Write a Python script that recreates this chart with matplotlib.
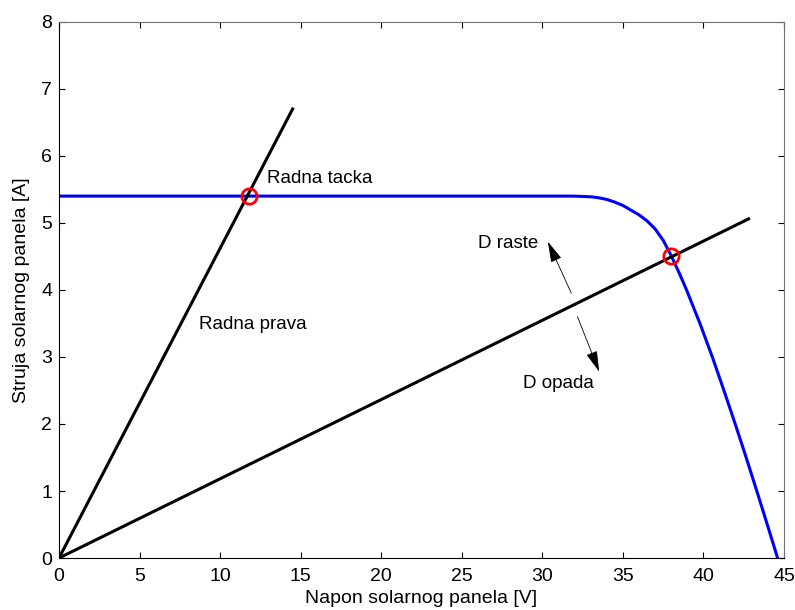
import matplotlib
matplotlib.use("Agg")
import matplotlib.pyplot as plt

plt.rcParams["font.family"] = ["Liberation Sans", "DejaVu Sans"]

# I-V curve of the solar panel
napon = [0, 10, 20, 30, 31.9, 32.5, 33.0, 33.5, 34.0, 34.5, 35.0, 35.5,
         36.0, 36.5, 37.0, 37.5, 38.0, 38.5, 38.95, 39.78, 40.55, 41.27,
         41.97, 42.65, 43.31, 43.96, 44.6]
struja = [5.4, 5.4, 5.4, 5.4, 5.4, 5.395, 5.39, 5.375, 5.35, 5.31, 5.26, 5.19,
          5.12, 5.03, 4.91, 4.74, 4.51, 4.25, 4.0, 3.5, 3.0, 2.5,
          2.0, 1.5, 1.0, 0.5, 0.0]

# load lines through the origin
prava1_v = [0, 14.5]
prava1_i = [0, 6.7]
prava2_v = [0, 42.8]
prava2_i = [0, 5.06]

# operating points
tacke_v = [11.8, 38.0]
tacke_i = [5.4, 4.5]

fig = plt.figure(figsize=(7.95, 6.1), dpi=100)
ax = fig.add_axes([0.0742, 0.0852, 0.912, 0.879])

ax.plot(napon, struja, color="#0000ff", lw=2.2, zorder=2)
ax.plot(prava1_v, prava1_i, color="black", lw=2.2, zorder=3)
ax.plot(prava2_v, prava2_i, color="black", lw=2.2, zorder=3)
ax.plot(tacke_v, tacke_i, "o", ms=11, mfc="none", mec="red", mew=2, zorder=4)

ax.text(12.9, 5.66, "Radna tacka", fontsize=13.5, va="center")
ax.text(8.66, 3.48, "Radna prava", fontsize=13.5, va="center")
ax.text(26.0, 4.69, "D raste", fontsize=13.5, va="center")
ax.text(28.8, 2.6, "D opada", fontsize=13.5, va="center")

arrow = dict(arrowstyle="-|>,head_length=1.3,head_width=0.35",
             color="black", lw=0.6, shrinkA=0, shrinkB=0)
ax.annotate("", xy=(30.34, 4.72), xytext=(31.8, 3.95), arrowprops=arrow)
ax.annotate("", xy=(33.53, 2.78), xytext=(32.18, 3.60), arrowprops=arrow)

ax.set_xlim(0, 45)
ax.set_ylim(0, 8)
ax.set_xticks(range(0, 46, 5))
ax.set_yticks(range(0, 9))
ax.tick_params(direction="in", length=4, width=0.8, labelsize=14,
               top=True, right=True, pad=5)
ax.tick_params(axis="x", pad=7)
for side in ["left", "bottom"]:
    ax.spines[side].set_color("black")
for side in ["top", "right"]:
    ax.spines[side].set_color("#707070")

ax.set_xlabel("Napon solarnog panela [V]", fontsize=14, labelpad=4)
ax.set_ylabel("Struja solarnog panela [A]", fontsize=14, labelpad=8)

fig.savefig("out.png", dpi=100)
